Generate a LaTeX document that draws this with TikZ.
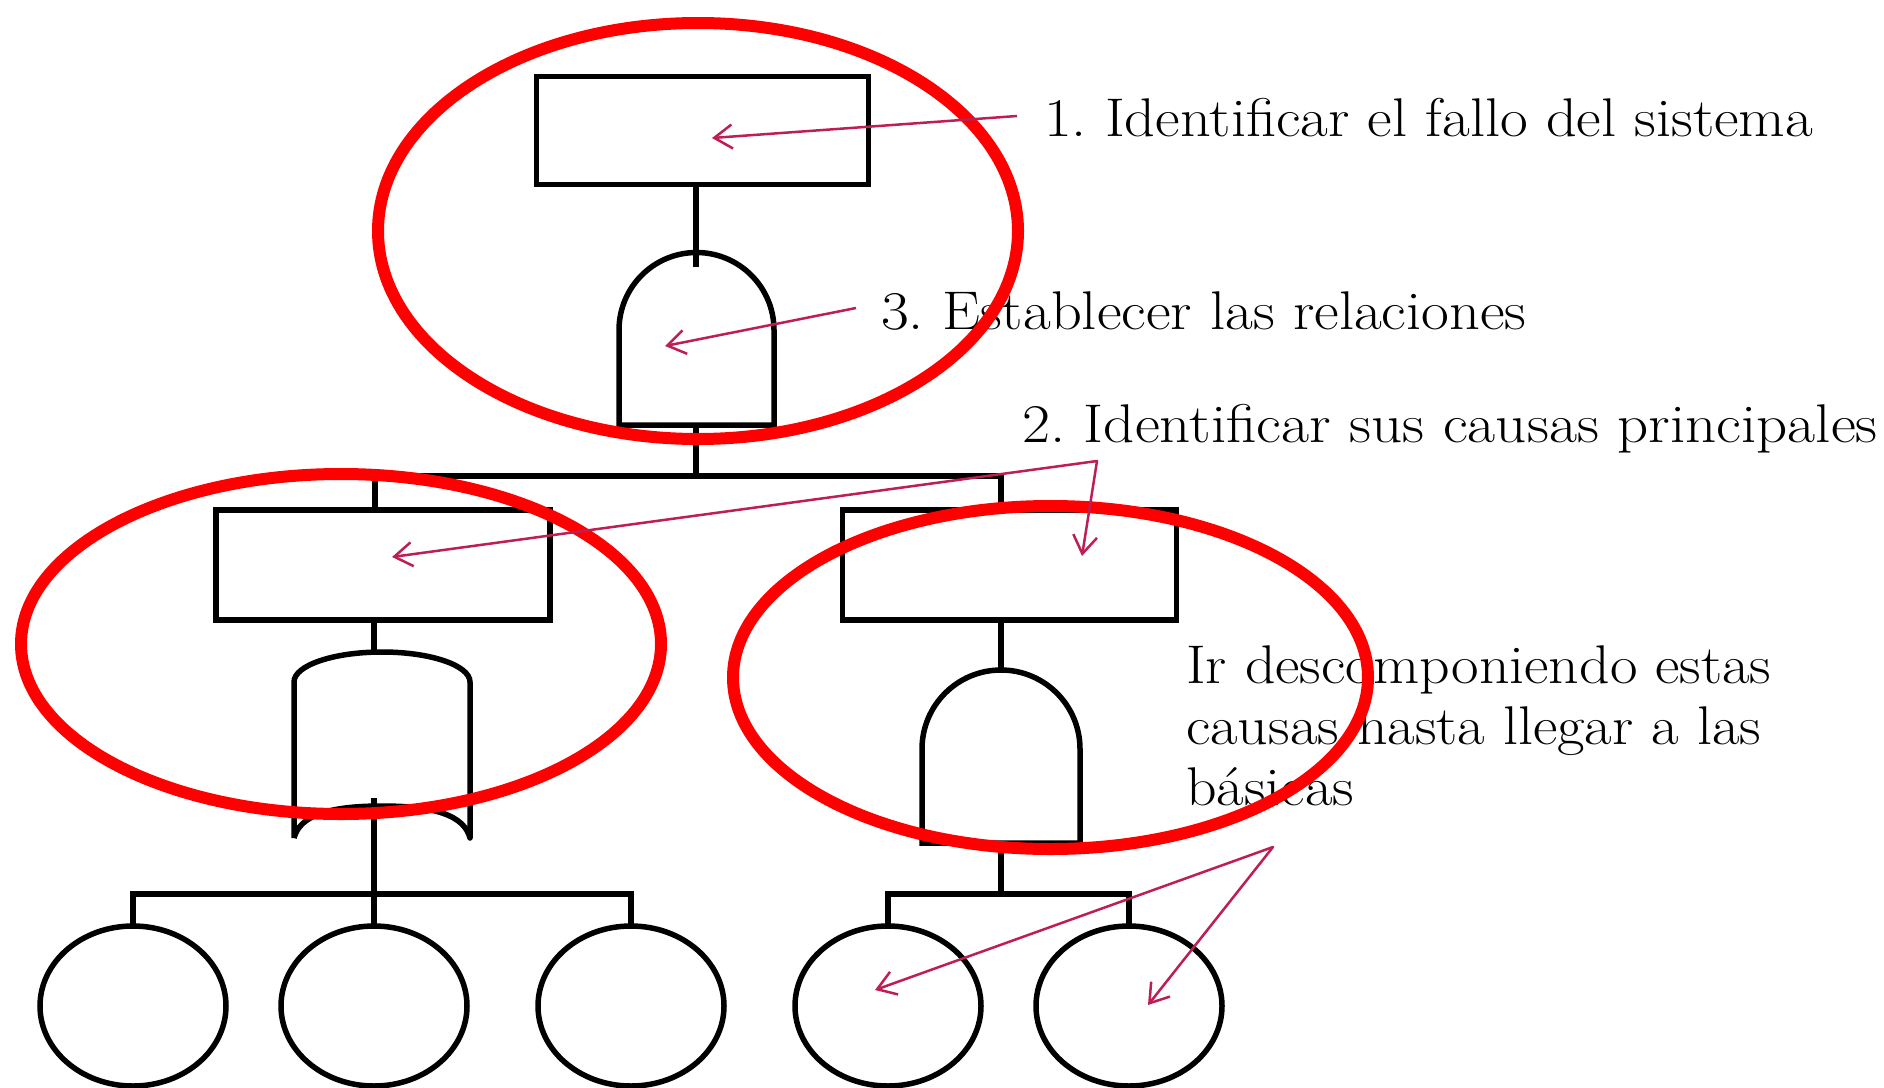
\documentclass[tikz,border=0pt]{standalone}
\usepackage{fontspec}
\usepackage{graphicx}
\usetikzlibrary{arrows.meta,shapes.geometric}
\definecolor{mag}{RGB}{190,30,85}
\newcommand{\widetxt}[2]{\scalebox{#1}[1]{#2}}
\begin{document}
\frenchspacing
\begin{tikzpicture}[x=1pt,y=-1pt,
  blk/.style={draw=black, line width=5.5pt},
  box/.style={blk, rectangle, inner sep=0pt, outer sep=0pt, minimum width=334pt, minimum height=110pt},
  leaf/.style={blk, ellipse, inner sep=0pt, outer sep=0pt, minimum width=186pt, minimum height=160pt},
  hl/.style={draw=red, line width=12pt, ellipse, inner sep=0pt, outer sep=0pt},
  lbl/.style={inner sep=0pt, anchor=base west, font=\fontsize{54.5}{61}\selectfont},
  arr/.style={draw=mag, line width=2.5pt, line join=round},
  >={Straight Barb[length=18pt,width=24pt]},
]
\useasboundingbox (0,0) rectangle (1884,1087);
\fill[white] (0,0) rectangle (1884,1087);

% ---------- boxes and basic events ----------
\node[box, minimum width=332pt, minimum height=108pt] (top) at (702.5,130.5) {};
\node[box] (lrect) at (383,565) {};
\node[box] (rrect) at (1009.5,565) {};
\node[leaf] (e1) at (133,1006) {};
\node[leaf] (e2) at (374,1006) {};
\node[leaf] (e3) at (631,1006) {};
\node[leaf] (e4) at (888,1006) {};
\node[leaf] (e5) at (1129,1006) {};

% ---------- gates ----------
% top AND gate
\draw[blk] (619,425) -- (619,330) arc[start angle=180, end angle=360, radius=77.5] -- (774,425) -- cycle;
\coordinate (g1in) at (696,267);
\coordinate (g1bot) at (696,425);
% left OR gate
\draw[blk, line join=round] (294,838) -- (294,682) arc[start angle=180, end angle=360, x radius=88, y radius=30]
  -- (470,838) .. controls (464,815) and (434,806) .. (382,806)
  .. controls (330,806) and (300,815) .. (294,838);
\coordinate (orin) at (374,798);
\coordinate (ortop) at (374,652);
% right AND gate
\draw[blk] (922,843) -- (922,749) arc[start angle=180, end angle=360, radius=79] -- (1080,843) -- cycle;
\coordinate (g2top) at (1001,670);
\coordinate (g2bot) at (1001,843);

% ---------- connectors ----------
\coordinate (bar1l) at (375,476);
\coordinate (bar1r) at (1001,476);
\coordinate (bar2) at (0,894);
\draw[blk] (g1in |- top.south) -- (g1in);
\draw[blk] (g1bot) -- (g1bot |- bar1l);
\draw[blk] (lrect.north -| bar1l) -- (bar1l) -- (bar1r) -- (rrect.north -| bar1r);
\draw[blk] (ortop |- lrect.south) -- (ortop);
\draw[blk] (orin) -- (e2.north);
\draw[blk] (e1.north) -- (e1.north |- bar2) -- (e3.north |- bar2) -- (e3.north);
\draw[blk] (g2top |- rrect.south) -- (g2top);
\draw[blk] (g2bot) -- (g2bot |- bar2);
\draw[blk] (e4.north) -- (e4.north |- bar2) -- (e5.north |- bar2) -- (e5.north);

% ---------- texts ----------
\node[lbl] (t1) at (1044,136) {\widetxt{1.107}{1. Identificar el fallo del sistema}};
\node[lbl] (t3) at (881,329) {\widetxt{1.109}{3. Establecer las relaciones}};
\node[lbl] (t2) at (1022,442) {\widetxt{1.12}{2. Identificar sus causas principales}};
\node[lbl] (t4) at (1186,683) {\widetxt{1.098}{\begin{tabular}[t]{@{}l@{}}Ir descomponiendo estas\\ causas hasta llegar a las\\ básicas\end{tabular}}};

% ---------- red highlights ----------
\node[hl, minimum width=640pt, minimum height=416pt] (h1) at (698,231) {};
\node[hl, minimum width=640pt, minimum height=340pt] (h2) at (341,644) {};
\node[hl, minimum width=635pt, minimum height=343pt] (h3) at (1050.5,677.5) {};

% ---------- arrows ----------
\coordinate (a1s) at (1017,116); \coordinate (a1e) at (712,138);
\coordinate (a3s) at (856,308);  \coordinate (a3e) at (665,346);
\coordinate (a2v) at (1097,461); \coordinate (a2l) at (392,557); \coordinate (a2r) at (1082,556);
\coordinate (a4v) at (1273,847); \coordinate (a4l) at (875,990); \coordinate (a4r) at (1148,1005);
\draw[arr, ->] (a1s) -- (a1e);
\draw[arr, ->] (a3s) -- (a3e);
\draw[arr, <->] (a2l) -- (a2v) -- (a2r);
\draw[arr, <->] (a4l) -- (a4v) -- (a4r);
\end{tikzpicture}
\end{document}
